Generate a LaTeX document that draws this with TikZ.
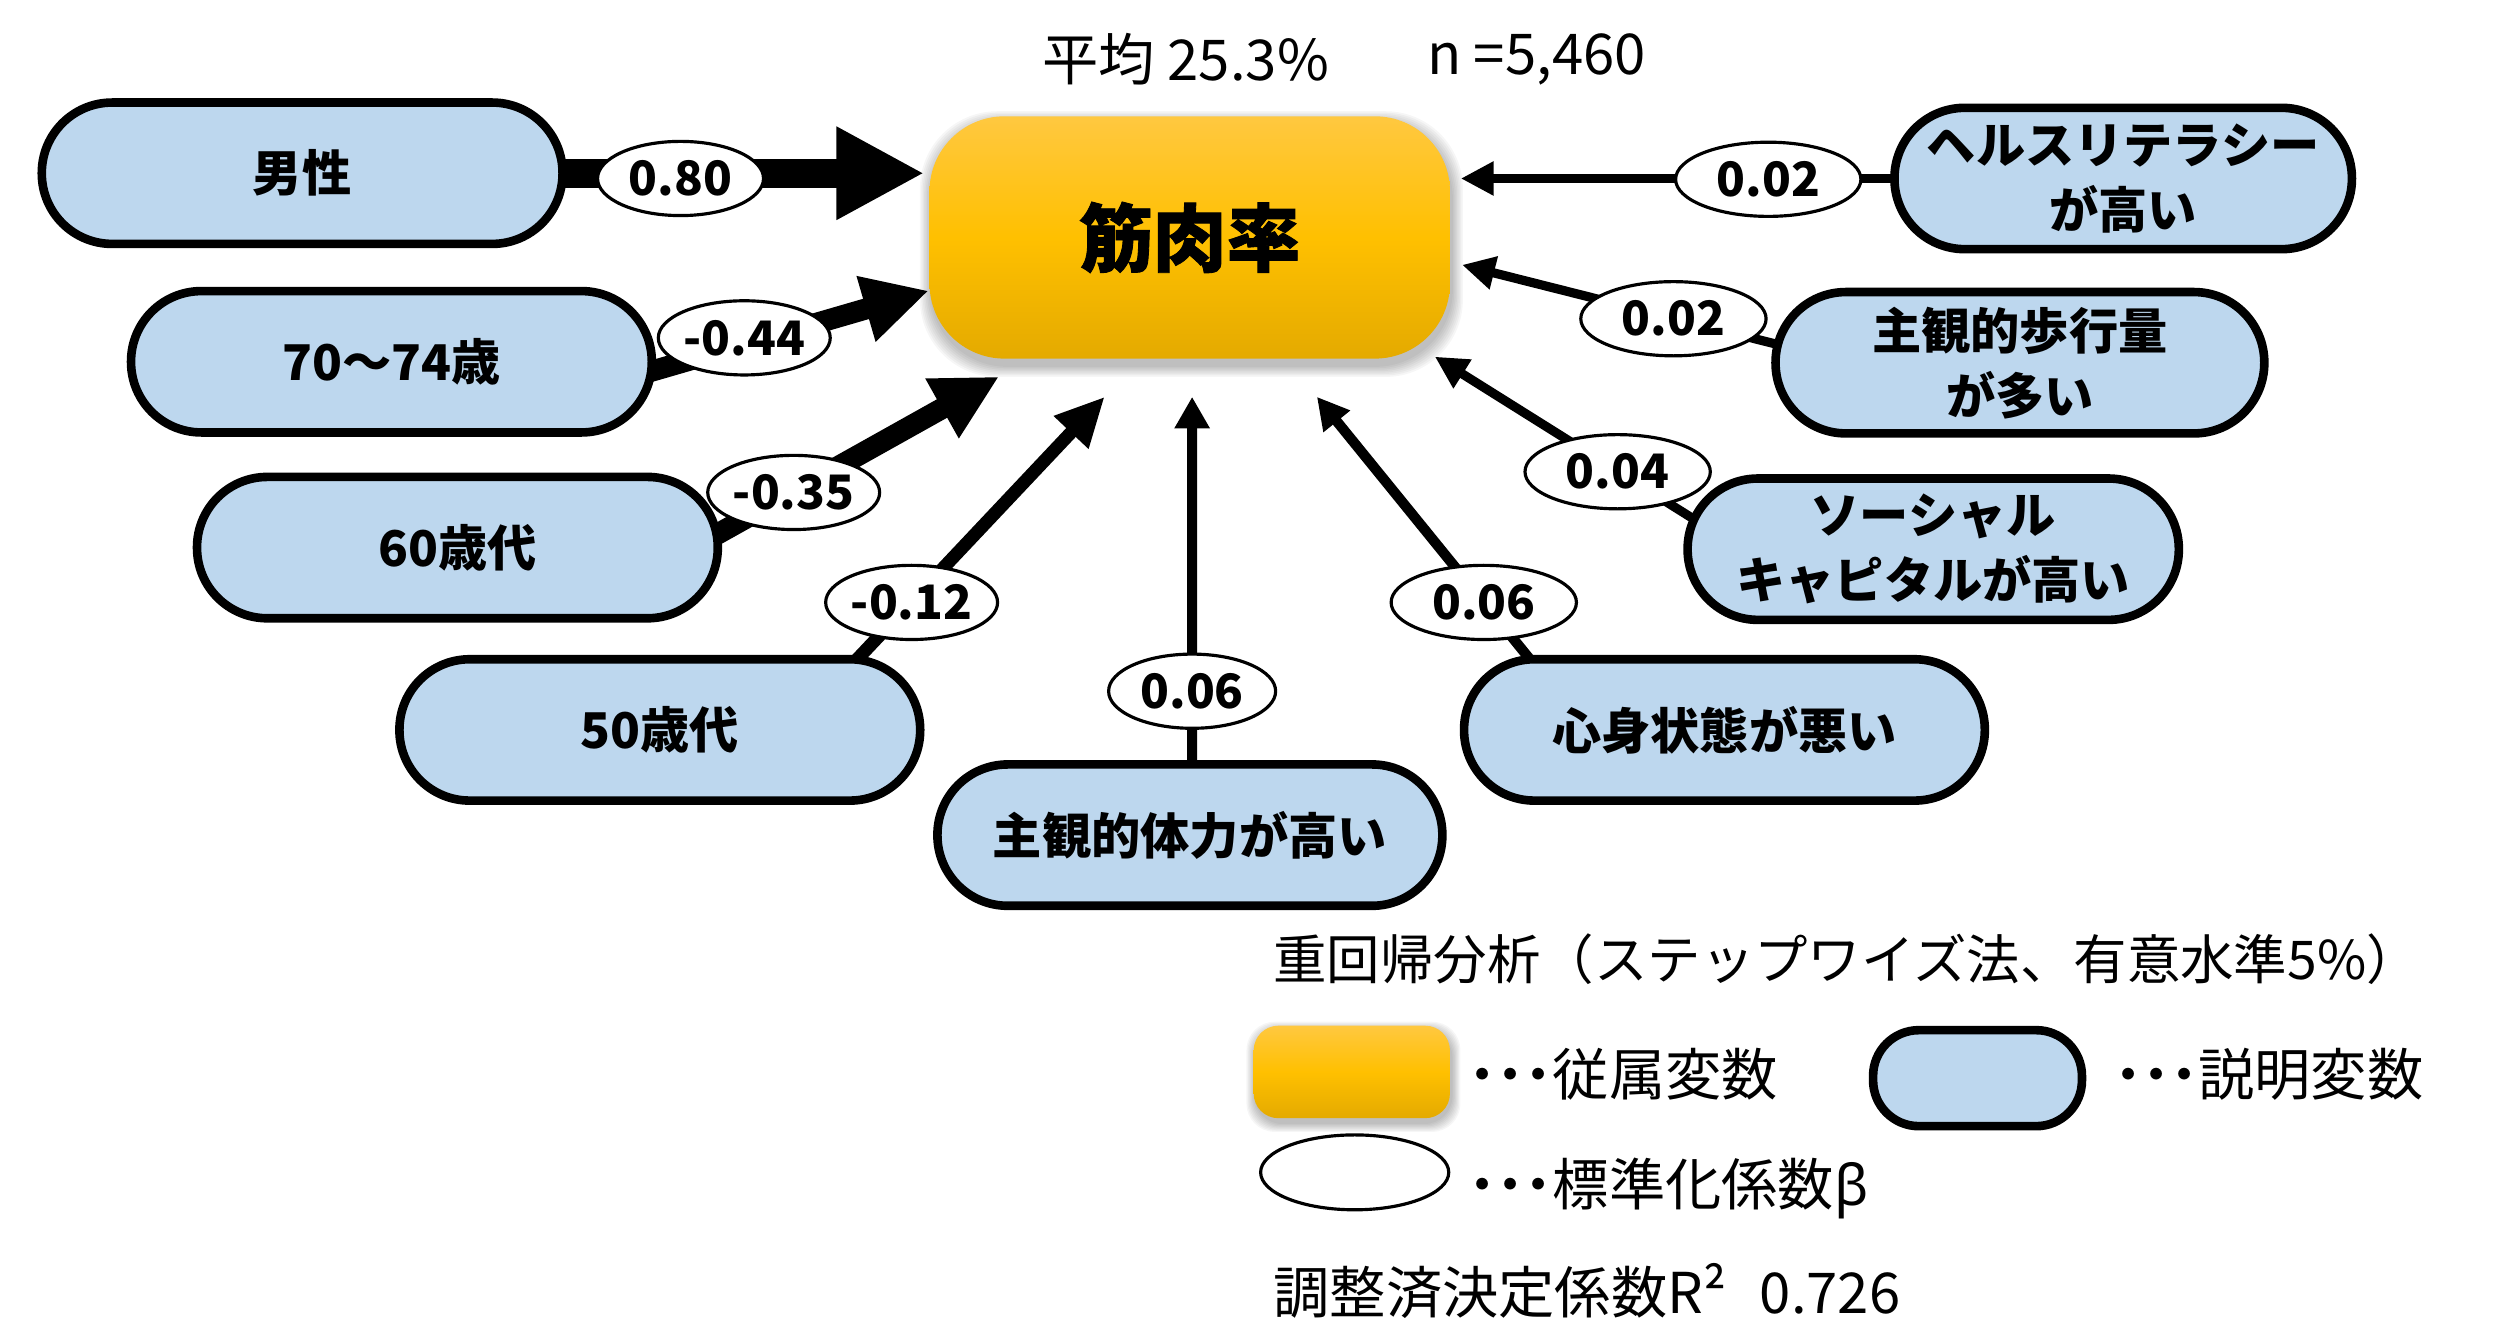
\documentclass[tikz,border=0pt]{standalone}
\usepackage{fontspec}
\setmainfont{Noto Sans CJK JP}
\newfontfamily\latinfont{Noto Sans}
\usetikzlibrary{arrows.meta,calc,shapes.geometric}
\pgfdeclarelayer{bg}
\pgfsetlayers{bg,main}
\definecolor{boxblue}{RGB}{189,215,238}
\definecolor{orTop}{RGB}{255,200,64}
\definecolor{orMid}{RGB}{255,192,0}
\definecolor{orBot}{RGB}{228,170,0}
\begin{document}
\begin{tikzpicture}[x=0.015937cm,y=-0.015937cm,
  ivbox/.style={draw=black, line width=2.45pt, fill=boxblue, rounded corners=20pt,
    minimum height=40.2pt, inner sep=1pt, align=center,
    font=\fontsize{14}{18.5}\selectfont\bfseries},
  coef/.style={ellipse, draw=black, line width=0.9pt, fill=white, minimum height=21.1pt,
    inner sep=0pt, font=\fontsize{13.5}{15}\selectfont\bfseries},
  cl/.style={coef, minimum width=47.2pt},
  cr/.style={coef, minimum width=52.7pt},
  dvbox/.style={draw=none, top color=orTop, bottom color=orBot, middle color=orMid},
  leg/.style={anchor=west, inner sep=0pt, font=\fontsize{16}{19}\selectfont},
  ttl/.style={inner sep=0pt, font=\fontsize{16}{19}\selectfont},
]
\useasboundingbox (0,0) rectangle (1568,829.5);

% title
\node[ttl] (ti1) at (744,37) {平均 25.3\%};
\node[ttl] (ti2) at (964,37) {n =5,460};

% dependent variable
\node[dvbox, rounded corners=21.3pt, minimum width=148pt, minimum height=68.9pt,
  inner sep=0pt, font=\fontsize{21}{25}\selectfont\bfseries\addfontfeature{FakeBold=1.2}] (dv) at (746.5,149) {筋肉率};

% explanatory variables
\node[ivbox, minimum width=148.1pt] (m1) at (189.6,108.7) {男性};
\node[ivbox, minimum width=148.1pt] (m2) at (245.6,227) {70〜74歳};
\node[ivbox, minimum width=148.1pt] (m3) at (287,343.6) {60歳代};
\node[ivbox, minimum width=148.1pt] (m4) at (414,458) {50歳代};
\node[ivbox, minimum width=143.6pt] (m5) at (746.6,524) {主観的体力が高い};
\node[ivbox, minimum width=148.1pt] (m6) at (1082,458) {心身状態が悪い};
\node[ivbox, minimum width=139.7pt] (m7) at (1213,344.6) {ソーシャル\\キャピタルが高い};
\node[ivbox, minimum width=139pt] (m8) at (1267.4,227.6) {主観的歩行量\\が多い};
\node[ivbox, minimum width=130.1pt] (m9) at (1332.2,112) {ヘルスリテラシー\\が高い};

% arrow tips
\coordinate (t1) at (580,108.7);
\coordinate (t2) at (582.8,182.4);
\coordinate (t3) at (626.9,236.3);
\coordinate (t4) at (693.2,248.9);
\coordinate (t5) at (748,249);
\coordinate (t6) at (826.3,249);
\coordinate (t7) at (900.3,223.8);
\coordinate (t8) at (917.4,166.2);
\coordinate (t9) at (916.6,112);

% legend shapes
\node[dvbox, rounded corners=7pt, minimum width=55.8pt, minimum height=26.3pt, inner sep=0pt] (lg1) at (848.2,672.6) {};
\node[draw=black, line width=2.45pt, fill=boxblue, rounded corners=13pt, minimum width=59.4pt,
  minimum height=27.3pt, inner sep=0pt] (lg2) at (1240.8,676.5) {};
\node[ellipse, draw=black, line width=0.9pt, fill=white, minimum width=53.5pt,
  minimum height=21.3pt, inner sep=0pt] (lg3) at (850,735.6) {};

\begin{pgfonlayer}{bg}
  % soft shadows
  \foreach \i in {1,...,8} {
    \fill[black, opacity=0.035, rounded corners=22pt]
      ({583.4-\i*0.9+1},{73+4-\i*0.9}) rectangle ({909.7+\i*0.9+1},{225.3+4+\i*0.9});
    \fill[black, opacity=0.035, rounded corners=8pt]
      ({786.7-\i*0.7+1},{643.7+3-\i*0.7}) rectangle ({909.7+\i*0.7+1},{701.6+3+\i*0.7});
  }
  % connectors
  \draw[line width=8.2pt,-{Triangle[length=25pt,width=24.7pt]}] ($(m1.east)+(-8,0)$) -- (t1);
  \draw[line width=6pt,-{Triangle[length=18.6pt,width=18.1pt]}] ($(m2.east)+(-7.3,7.2)$) -- (t2);
  \draw[line width=6pt,-{Triangle[length=18.6pt,width=18.1pt]}] ($(m3.east)+(-8.6,-5.3)$) -- (t3);
  \draw[line width=3.7pt,-{Triangle[length=14pt,width=12.6pt]}] ($(m4.north)+(121,5.7)$) -- (t4);
  \draw[line width=2.8pt,-{Triangle[length=9pt,width=9.5pt]}] ($(m5.north)+(1.4,8)$) -- (t5);
  \draw[line width=2.9pt,-{Triangle[length=9pt,width=9.2pt]}] ($(m6.north)+(-119.2,6.2)$) -- (t6);
  \draw[line width=2.6pt,-{Triangle[length=9.3pt,width=9.1pt]}] ($(m7.west)+(11.5,-15.8)$) -- (t7);
  \draw[line width=2.6pt,-{Triangle[length=9.3pt,width=9.1pt]}] ($(m8.west)+(8.9,-10.2)$) -- (t8);
  \draw[line width=2.6pt,-{Triangle[length=9.3pt,width=9.1pt]}] ($(m9.west)+(8,0)$) -- (t9);
\end{pgfonlayer}

% standardized coefficients
\node[cl] (c1) at (427,112) {0.80};
\node[cl] (c2) at (467,212) {-0.44};
\node[cl] (c3) at (498,309) {-0.35};
\node[cl] (c4) at (572,378) {-0.12};
\node[coef, minimum width=47.5pt] (c5) at (748,433.7) {0.06};
\node[cr] (c6) at (931,378) {0.06};
\node[cr] (c7) at (1015,296) {0.04};
\node[cr] (c8) at (1050,200) {0.02};
\node[cr] (c9) at (1109.5,112.5) {0.02};

% legend texts
\node[leg, font=\fontsize{15.2}{18}\selectfont] (lt0) at (798.6,602) {重回帰分析（ステップワイズ法、有意水準5\%）};
\node[leg] (lt1) at (921,674) {{\bfseries ･･･}従属変数};
\node[leg] (lt2) at (1326,674) {{\bfseries ･･･}説明変数};
\node[leg] (lt3) at (921,746) {{\bfseries ･･･}標準化係数{\latinfont β}};
\node[leg] (lt4) at (798.6,810) {調整済決定係数R²\hspace{0.6em}0.726};
\end{tikzpicture}
\end{document}
